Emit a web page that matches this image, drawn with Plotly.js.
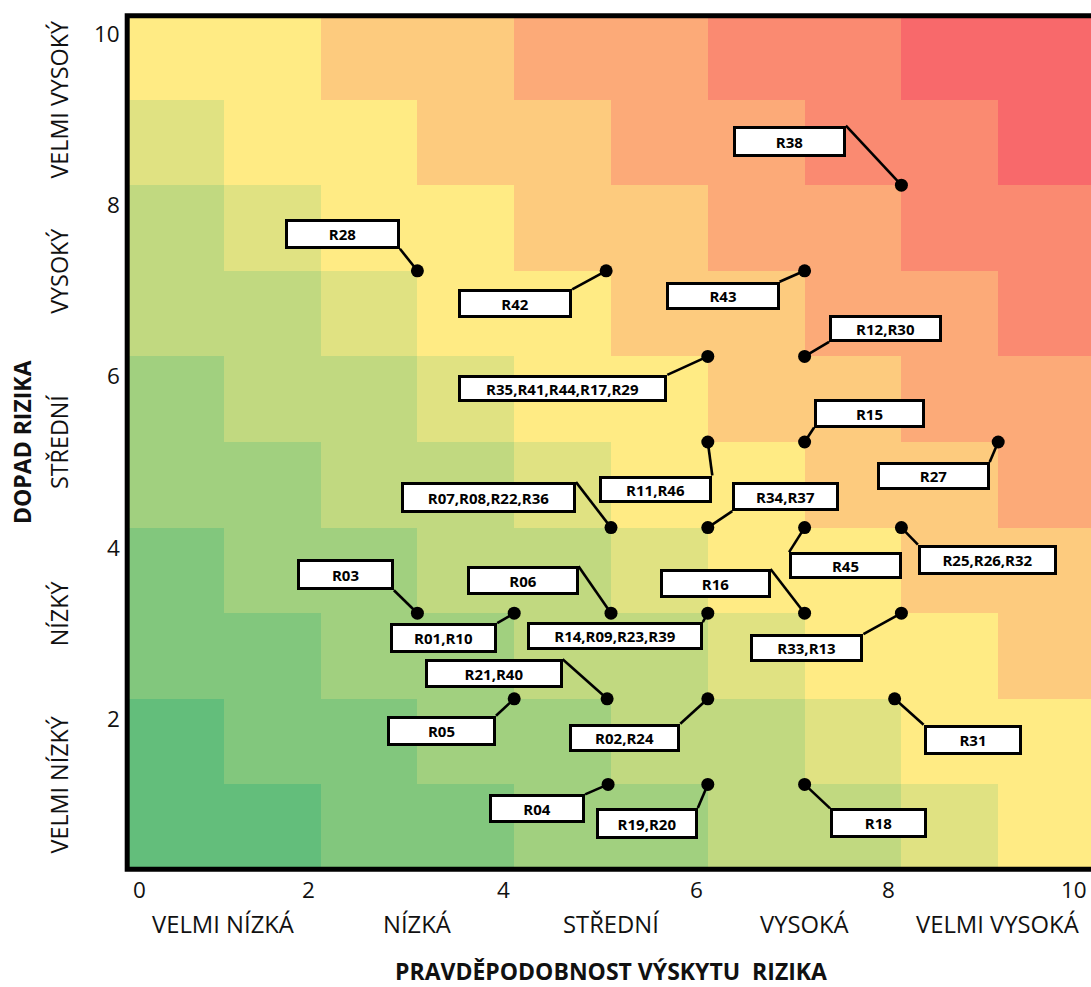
<!DOCTYPE html>
<html>
<head>
<meta charset="utf-8">
<script src="https://cdn.plot.ly/plotly-3.0.1.min.js"></script>
<style>html,body{margin:0;padding:0;overflow:hidden;background:#fff;}</style>
</head>
<body>
<div id="chart"></div>
<script>
// ---------------- DATA ----------------
// Risk level of each matrix cell, rows from impact 0-1 (bottom) to 9-10 (top), columns probability 0-1 ... 9-10
const levelRow0 = [-5,-5,-4,-4,-3,-3,-2,-2,-1, 0];
const levelRow1 = [-5,-4,-4,-3,-3,-2,-2,-1, 0, 0];
const levelRow2 = [-4,-4,-3,-3,-2,-2,-1, 0, 0, 1];
const levelRow3 = [-4,-3,-3,-2,-2,-1, 0, 0, 1, 1];
const levelRow4 = [-3,-3,-2,-2,-1, 0, 0, 1, 1, 2];
const levelRow5 = [-3,-2,-2,-1, 0, 0, 1, 1, 2, 2];
const levelRow6 = [-2,-2,-1, 0, 0, 1, 1, 2, 2, 3];
const levelRow7 = [-2,-1, 0, 0, 1, 1, 2, 2, 3, 3];
const levelRow8 = [-1, 0, 0, 1, 1, 2, 2, 3, 3, 4];
const levelRow9 = [ 0, 0, 1, 1, 2, 2, 3, 3, 4, 4];

const riskLabels = ['R38','R28','R42','R43','R12,R30','R35,R41,R44,R17,R29','R15','R11,R46','R27',
  'R07,R08,R22,R36','R34,R37','R45','R25,R26,R32','R03','R06','R16','R01,R10','R14,R09,R23,R39',
  'R33,R13','R21,R40','R05','R02,R24','R31','R04','R19,R20','R18'];
const riskProbability = [8,3,4.95,7,7,6,7,6,9, 5,6,7,8,3,5,7,4,6, 8,4.96,4,6,7.93,4.97,6,7];
const riskImpact      = [8,7,7,7,6,6,5,5,5, 4,4,4,4,3,3,3,3,3, 3,2,2,2,2,1,1,1];

const probTickVals = [0,2,4,6,8,10];
const impactTickVals = [2,4,6,8,10];
const probCategories = ['VELMI NÍZKÁ','NÍZKÁ','STŘEDNÍ','VYSOKÁ','VELMI VYSOKÁ'];
const impactCategories = ['VELMI NÍZKÝ','NÍZKÝ','STŘEDNÍ','VYSOKÝ','VELMI VYSOKÝ'];
const xTitle = 'PRAVDĚPODOBNOST VÝSKYTU \u00a0RIZIKA';
const yTitle = 'DOPAD RIZIKA';

// ---------------- LAYOUT CONFIG (positions / sizes of callout boxes, px) ----------------
const calloutLayout = [
  {bx:-112,by:-44,w:113,h:31,c:'tr'}, {bx:-75,by:-37,w:115,h:30,c:'br'}, {bx:-91,by:33,w:114,h:29,c:'tr'},
  {bx:-82,by:25,w:114,h:28,c:'tr'}, {bx:81,by:-28,w:113,h:27,c:'bl'}, {bx:-145,by:32,w:209,h:27,c:'tr'},
  {bx:65,by:-29,w:111,h:29,c:'bl'}, {bx:-52,by:47,w:113,h:27,c:'tr'}, {bx:-65,by:34,w:113,h:28,c:'tr'},
  {bx:-122.5,by:-30,w:175,h:31,c:'tr'}, {bx:78,by:-31,w:107,h:29,c:'bl'}, {bx:41,by:38,w:113,h:27,c:'tl'},
  {bx:86,by:32,w:139,h:30,c:'tl'}, {bx:-72,by:-38.5,w:97,h:31,c:'br'}, {bx:-88.5,by:-32.5,w:112,h:29,c:'tr'},
  {bx:-89.6,by:-29.7,w:111,h:29,c:'tr'}, {bx:-70.5,by:25,w:107,h:30,c:'tr'}, {bx:-93,by:23,w:176,h:28,c:'tr'},
  {bx:-94.5,by:35,w:113,h:28,c:'tr'}, {bx:-113.5,by:-25,w:138,h:29,c:'tr'}, {bx:-72.7,by:32,w:109,h:30,c:'tr'},
  {bx:-83,by:39,w:111,h:28,c:'tr'}, {bx:78,by:41,w:98,h:30,c:'tl'}, {bx:-71,by:24.5,w:96,h:29,c:'tr'},
  {bx:-61,by:39,w:102,h:31,c:'tr'}, {bx:74,by:39,w:97,h:30,c:'tl'}
];
const xTickShift = [12,-12.6,-11,-11,-13.4,-21];

// ---------------- BUILD ----------------
const FONT = '"Open Sans", sans-serif';
const TXT = '#111';

const heat = {
  type:'heatmap',
  z:[levelRow0,levelRow1,levelRow2,levelRow3,levelRow4,levelRow5,levelRow6,levelRow7,levelRow8,levelRow9],
  x0:0.5, dx:1, y0:0.5, dy:1,
  zmin:-5, zmax:4,
  colorscale:[[0,'#63BE7B'],[5/9,'#FFEB84'],[1,'#F8696B']],
  showscale:false, hoverinfo:'skip'
};
const dots = {
  type:'scatter', mode:'markers',
  x:riskProbability, y:riskImpact,
  marker:{color:'#000', size:13},
  cliponaxis:false, hoverinfo:'skip'
};

const shapes = [];
const annotations = [];

riskLabels.forEach((name,i)=>{
  const L = calloutLayout[i];
  const cx = L.bx + (L.c[1]==='r' ? L.w/2 : -L.w/2);
  const cy = L.by + (L.c[0]==='b' ? L.h/2 : -L.h/2);
  shapes.push({
    type:'line', xref:'x', yref:'y', xsizemode:'pixel', ysizemode:'pixel',
    xanchor:riskProbability[i], yanchor:riskImpact[i],
    x0:0, y0:0, x1:cx, y1:-cy,
    line:{color:'#000', width:2.6}, layer:'above'
  });
  annotations.push({
    xref:'x', yref:'y', x:riskProbability[i], y:riskImpact[i],
    xshift:L.bx, yshift:-L.by, showarrow:false,
    text:'<b>'+name+'</b>',
    font:{family:FONT, size:15, color:'#000'},
    bgcolor:'#fff', bordercolor:'#000', borderwidth:3, borderpad:0,
    width:L.w-6, height:L.h-6, xanchor:'center', yanchor:'middle', align:'center', valign:'middle'
  });
});

// border of the plot (left, top, bottom)
shapes.push({type:'rect', xref:'paper', yref:'paper', x0:0.0002, x1:1.02, y0:0.0009, y1:0.9979,
  line:{color:'#000', width:5}, fillcolor:'rgba(0,0,0,0)', layer:'above'});

probTickVals.forEach((v,i)=>{
  annotations.push({xref:'x', yref:'paper', x:v, y:0, yshift:-19, xshift:xTickShift[i],
    yanchor:'middle', xanchor:'center', showarrow:false, text:String(v),
    font:{family:FONT, size:22.5, color:TXT}});
});
impactTickVals.forEach(v=>{
  annotations.push({xref:'paper', yref:'y', x:0, y:v, xshift:-5.3, yshift:-19.5,
    xanchor:'right', yanchor:'middle', showarrow:false, text:String(v),
    font:{family:FONT, size:22.5, color:TXT}});
});
probCategories.forEach((t,i)=>{
  annotations.push({xref:'x', yref:'paper', x:2*i+1, y:0, yshift:-54, xanchor:'center', yanchor:'middle',
    showarrow:false, text:t, font:{family:FONT, size:23.8, color:TXT}});
});
impactCategories.forEach((t,i)=>{
  annotations.push({xref:'paper', yref:'y', x:0, y:2*i+1, xshift:-68, xanchor:'center', yanchor:'middle',
    textangle:-90, showarrow:false, text:t, font:{family:FONT, size:23.3, color:TXT}});
});
annotations.push({xref:'paper', yref:'paper', x:0.5, y:0, yshift:-100.5, xanchor:'center', yanchor:'middle',
  showarrow:false, text:'<b>'+xTitle+'</b>', font:{family:FONT, size:23, color:TXT}});
annotations.push({xref:'paper', yref:'paper', x:0, y:0.5, xshift:-105, xanchor:'center', yanchor:'middle',
  textangle:-90, showarrow:false, text:'<b>'+yTitle+'</b>', font:{family:FONT, size:23, color:TXT}});

const layout = {
  width:1095, height:987,
  margin:{l:127, r:0, t:14, b:117},
  paper_bgcolor:'#fff', plot_bgcolor:'#fff',
  showlegend:false,
  xaxis:{range:[0,10], showgrid:false, zeroline:false, showticklabels:false, showline:false, ticks:'', fixedrange:true},
  yaxis:{range:[0,10], showgrid:false, zeroline:false, showticklabels:false, showline:false, ticks:'', fixedrange:true},
  shapes:shapes,
  annotations:annotations,
  font:{family:FONT}
};

Plotly.newPlot('chart',[heat,dots],layout,{displayModeBar:false, staticPlot:true});
</script>
</body>
</html>
